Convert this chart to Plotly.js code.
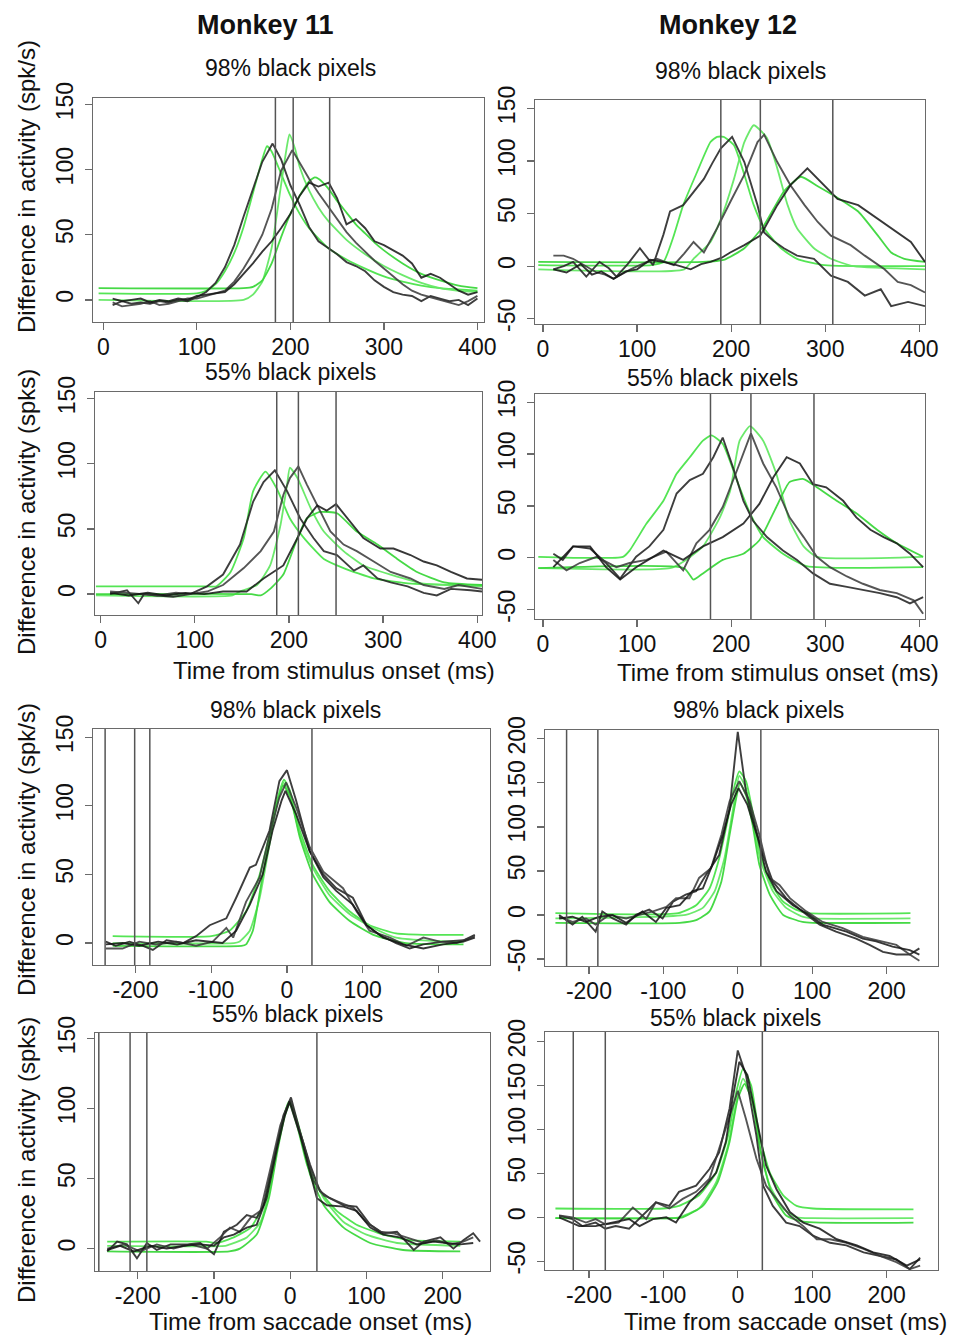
<!DOCTYPE html>
<html>
<head>
<meta charset="utf-8">
<script src="https://cdn.plot.ly/plotly-3.0.1.min.js"></script>
<style>
html,body{margin:0;padding:0;background:#fff;}
#chart{width:956px;height:1337px;}
</style>
</head>
<body>
<div id="chart"></div>
<script>
// ---------------- DATA ----------------
// tick values
const stimTicks = [0, 100, 200, 300, 400];
const saccTicks = [-200, -100, 0, 100, 200];
const yTicksA = [0, 50, 100, 150];
const yTicksB = [-50, 0, 50, 100, 150];
const yTicksC = [-50, 0, 50, 100, 150, 200];

// column / panel labels
const monkeyLabels = ["Monkey 11", "Monkey 12"];
const panelTitles = ["98% black pixels", "98% black pixels", "55% black pixels", "55% black pixels",
                     "98% black pixels", "98% black pixels", "55% black pixels", "55% black pixels"];
const yTitles = ["Difference in activity (spk/s)", "Difference in activity (spks)",
                 "Difference in activity (spk/s)", "Difference in activity (spks)"];
const xTitles = ["Time from stimulus onset (ms)", "Time from stimulus onset (ms)",
                 "Time from saccade onset (ms)", "Time from saccade onset (ms)"];

// vertical marker times (ms)
const p1VLines = [184, 203, 242];
const p2VLines = [189, 231, 308];
const p3VLines = [187, 210, 250];
const p4VLines = [178, 221, 288];
const p5VLines = [-240, -201, -181, 33];
const p6VLines = [-230, -188, 31];
const p7VLines = [-251, -210, -188, 35];
const p8VLines = [-221, -178, 33];

// ---- Panel 1: Monkey 11, stimulus onset, 98% ---- [time, activity]
const p1BlackA = [[10,-4],[20,-1],[30,-3],[40,-2],[50,-3],[60,-1],[70,-2],[80,0],[90,-1],[100,2],[110,6],[120,13],[130,25],[140,42],[150,64],[160,85],[170,106],[181,120],[190,108],[200,88],[210,73],[220,56],[230,45],[240,40],[250,35],[260,29],[270,26],[280,22],[290,15],[300,10],[310,6],[320,4],[330,3],[340,-1],[350,3],[360,1],[370,-1],[380,0],[390,-4],[400,1]];
const p1BlackB = [[10,-2],[20,-5],[30,-4],[40,-3],[50,-1],[60,-4],[70,-3],[80,-1],[90,1],[100,1],[110,3],[120,5],[130,7],[140,14],[150,24],[160,36],[170,50],[180,70],[190,99],[202,115],[210,105],[220,93],[230,82],[240,72],[250,62],[260,52],[270,44],[280,37],[290,30],[300,24],[310,18],[320,12],[330,7],[340,4],[350,2],[360,0],[370,-2],[380,-4],[390,-1],[400,3]];
const p1BlackC = [[10,1],[20,-1],[30,0],[40,1],[50,-2],[60,0],[70,-1],[80,1],[90,0],[100,3],[110,4],[120,5],[130,6],[140,12],[150,20],[160,28],[170,37],[180,45],[190,55],[200,66],[210,80],[220,90],[230,87],[241,90],[250,78],[260,58],[270,62],[280,55],[290,45],[300,42],[310,38],[320,34],[330,28],[340,17],[350,20],[360,17],[370,12],[380,7],[390,4],[400,6]];
const p1GreenA = [[-5,5],[100,5],[110,7],[120,12],[130,22],[140,36],[150,56],[160,82],[170,108],[175,118],[180,114],[190,97],[200,80],[210,66],[220,55],[240,40],[260,31],[280,24],[300,18],[320,14],[340,11],[360,9],[380,8],[400,7]];
const p1GreenB = [[-5,0],[150,0],[160,4],[170,14],[180,40],[190,88],[195,112],[199,127],[205,116],[210,102],[220,84],[230,71],[240,61],[260,46],[280,35],[300,26],[320,19],[340,13],[360,9],[380,7],[400,6]];
const p1GreenC = [[-5,9],[150,9],[160,10],[170,15],[180,28],[190,48],[200,66],[210,80],[220,91],[226,94],[230,93],[240,86],[250,76],[260,67],[270,58],[280,51],[290,44],[300,38],[320,28],[340,20],[360,15],[380,11],[400,9]];

// ---- Panel 2: Monkey 12, stimulus onset, 98% ----
const p2BlackA = [[11,-3],[22,0],[32,4],[46,-10],[60,4],[70,-2],[78,-10],[90,2],[103,17],[117,1],[128,30],[135,52],[149,58],[160,70],[171,83],[180,98],[189,112],[201,123],[214,99],[228,58],[235,32],[245,24],[256,17],[270,10],[288,7],[306,-9],[324,-15],[342,-28],[359,-22],[370,-38],[388,-34],[406,-38]];
const p2BlackB = [[11,10],[22,10],[32,7],[45,0],[57,-6],[66,-8],[75,-12],[93,-3],[108,3],[121,7],[139,1],[150,12],[160,23],[171,13],[185,36],[199,61],[214,87],[228,118],[235,125],[249,99],[263,77],[278,58],[292,42],[306,29],[327,20],[342,10],[363,-3],[377,-15],[391,-18],[406,-25]];
const p2BlackC = [[11,-3],[25,-6],[40,2],[52,-8],[62,-5],[75,-12],[88,-5],[100,-3],[114,6],[128,4],[142,1],[157,-3],[168,2],[178,4],[190,8],[199,13],[214,20],[231,29],[249,58],[263,77],[281,93],[299,77],[313,64],[335,58],[356,45],[377,32],[391,23],[406,4]];
const p2GreenA = [[-5,1],[115,1],[128,4],[139,29],[149,58],[164,90],[178,118],[185,123],[192,123],[203,115],[214,87],[224,58],[235,36],[253,17],[270,7],[299,1],[406,0]];
const p2GreenB = [[-5,-3],[150,-3],[160,7],[178,23],[192,52],[203,83],[214,118],[224,134],[238,122],[249,93],[260,58],[270,36],[288,17],[306,7],[330,0],[406,-3]];
const p2GreenC = [[-5,4],[170,4],[192,6],[214,17],[235,39],[256,71],[274,85],[292,76],[313,65],[335,52],[356,29],[370,13],[384,7],[406,4]];

// ---- Panel 3: Monkey 11, stimulus onset, 55% ----
const p3BlackA = [[10,0],[20,2],[28,3],[40,-7],[46,0],[60,-1],[77,-2],[95,0],[113,6],[130,15],[148,38],[162,71],[173,86],[185,95],[198,79],[212,58],[226,43],[237,33],[251,30],[269,18],[279,22],[294,12],[308,9],[326,6],[343,1],[357,-1],[372,4],[393,3],[405,2]];
const p3BlackB = [[10,2],[25,1],[40,0],[60,-1],[80,1],[95,0],[113,2],[130,7],[152,20],[170,33],[184,48],[194,76],[201,89],[210,98],[219,84],[230,68],[244,48],[258,38],[272,33],[290,25],[308,17],[329,12],[343,7],[365,4],[380,7],[405,4]];
const p3BlackC = [[10,1],[30,-1],[50,1],[70,-1],[90,1],[110,0],[130,2],[155,2],[173,12],[194,22],[209,43],[219,58],[230,68],[240,64],[250,69],[265,56],[279,43],[297,35],[311,35],[329,30],[343,25],[357,22],[372,17],[389,12],[405,11]];
const p3GreenA = [[-5,6],[110,6],[123,6],[138,17],[152,43],[162,79],[175,94],[187,81],[201,58],[216,43],[237,27],[258,20],[290,12],[330,8],[405,7]];
const p3GreenB = [[-5,-1],[140,-1],[148,2],[166,7],[180,22],[191,53],[198,84],[201,97],[209,89],[223,66],[237,48],[258,33],[279,22],[308,15],[343,8],[405,6]];
const p3GreenC = [[-5,0],[160,0],[170,-1],[180,4],[194,15],[209,43],[219,58],[233,63],[251,62],[272,48],[294,38],[315,27],[336,17],[365,9],[405,7]];

// ---- Panel 4: Monkey 12, stimulus onset, 55% ----
const p4BlackA = [[11,4],[21,-2],[32,11],[50,9],[67,-5],[82,-20],[99,1],[113,11],[128,27],[142,62],[156,75],[170,81],[181,97],[191,116],[202,87],[213,55],[223,36],[238,20],[255,7],[270,-2],[287,-15],[305,-25],[323,-28],[340,-31],[358,-34],[376,-38],[390,-44],[404,-38]];
const p4BlackB = [[11,-2],[25,-12],[39,-5],[57,1],[78,-9],[92,-5],[110,-2],[131,6],[149,-12],[163,14],[177,27],[191,49],[206,84],[221,120],[234,91],[248,68],[262,39],[277,20],[291,1],[305,-9],[323,-18],[340,-25],[358,-31],[376,-34],[394,-41],[404,-54]];
const p4BlackC = [[11,-9],[32,11],[50,11],[67,-9],[82,-21],[99,-9],[128,7],[149,-2],[170,11],[191,20],[213,33],[230,52],[245,78],[259,97],[273,91],[287,71],[301,68],[319,55],[333,39],[348,27],[362,20],[376,14],[390,4],[404,-9]];
const p4GreenA = [[-5,1],[85,1],[92,7],[110,33],[128,55],[142,81],[156,97],[170,113],[179,118],[191,110],[206,75],[220,43],[234,20],[255,4],[280,-8],[404,-9]];
const p4GreenB = [[-5,-10],[135,-10],[152,-2],[170,11],[188,39],[199,65],[209,113],[220,127],[234,113],[248,81],[262,36],[277,11],[291,1],[404,1]];
const p4GreenC = [[-5,-10],[150,-10],[160,-21],[170,-15],[191,-2],[213,4],[230,17],[248,49],[262,73],[277,76],[291,68],[312,55],[333,43],[355,27],[376,14],[404,1]];

// ---- Panel 5: Monkey 11, saccade onset, 98% ----
const p5BlackA = [[-239,1],[-226,-2],[-208,1],[-190,-2],[-177,-5],[-159,2],[-137,0],[-120,5],[-102,13],[-80,18],[-67,33],[-49,55],[-41,57],[-23,82],[-10,118],[0,126],[12,104],[30,67],[48,50],[65,40],[87,33],[105,13],[122,6],[144,0],[162,-4],[180,-1],[206,1],[233,2],[248,6]];
const p5BlackB = [[-239,-4],[-217,-4],[-195,1],[-173,-1],[-146,1],[-120,-2],[-98,1],[-80,11],[-71,4],[-54,30],[-36,48],[-23,79],[-10,106],[-1,117],[12,99],[30,70],[48,52],[74,40],[92,23],[109,9],[136,4],[158,-2],[180,4],[202,1],[224,0],[248,5]];
const p5BlackC = [[-239,-1],[-217,0],[-195,-2],[-170,1],[-145,-1],[-120,2],[-85,0],[-67,9],[-49,28],[-32,50],[-19,82],[-7,104],[-2,111],[12,94],[30,67],[48,48],[65,38],[87,28],[105,13],[127,4],[153,-1],[180,-4],[206,-1],[233,1],[248,4]];
const p5GreenA = [[-230,5],[-100,5],[-76,9],[-54,23],[-36,50],[-23,79],[-12,106],[-4,119],[4,111],[17,82],[34,57],[56,38],[83,23],[109,13],[144,7],[180,6],[233,6]];
const p5GreenB = [[-230,0],[-70,0],[-63,1],[-49,9],[-36,33],[-23,72],[-14,99],[-5,117],[4,108],[17,79],[34,55],[56,35],[83,21],[114,11],[144,4],[180,2],[233,1]];
const p5GreenC = [[-230,-2],[-60,-2],[-54,-1],[-45,9],[-34,43],[-23,77],[-12,104],[-5,115],[4,107],[17,77],[34,50],[56,30],[83,16],[114,6],[157,0],[233,-1]];

// ---- Panel 6: Monkey 12, saccade onset, 98% ----
const p6BlackA = [[-240,0],[-222,-11],[-209,-2],[-191,-19],[-182,4],[-168,-4],[-150,-11],[-137,0],[-119,6],[-101,-4],[-87,15],[-70,23],[-56,27],[-43,45],[-25,68],[-11,121],[0,208],[11,140],[25,95],[34,68],[47,38],[65,19],[87,4],[110,-11],[132,-19],[159,-27],[177,-34],[195,-42],[213,-45],[231,-45],[244,-38]];
const p6BlackB = [[-240,-2],[-222,-8],[-204,-4],[-191,-11],[-173,0],[-150,-4],[-132,0],[-114,4],[-96,9],[-83,19],[-65,19],[-52,42],[-36,53],[-22,91],[-11,129],[2,152],[16,129],[29,91],[43,42],[56,34],[70,19],[92,4],[114,-8],[141,-15],[168,-25],[191,-30],[213,-34],[231,-45],[244,-52]];
const p6BlackC = [[-240,-4],[-222,-2],[-204,-8],[-186,-2],[-168,0],[-150,-9],[-128,4],[-110,-8],[-96,8],[-78,11],[-61,27],[-47,30],[-34,57],[-20,91],[-9,125],[1,144],[13,125],[27,87],[38,49],[52,27],[74,11],[96,0],[114,-11],[146,-19],[168,-27],[186,-30],[208,-36],[231,-40],[244,-45]];
const p6GreenA = [[-245,2],[-80,2],[-56,11],[-38,30],[-25,64],[-13,110],[-4,148],[2,163],[11,152],[20,117],[29,72],[43,38],[61,15],[78,6],[96,2],[232,2]];
const p6GreenB = [[-245,-4],[-70,0],[-47,8],[-31,27],[-18,64],[-7,117],[2,158],[11,144],[20,106],[31,61],[47,27],[65,8],[87,-2],[101,-4],[232,-4]];
const p6GreenC = [[-245,-9],[-78,-9],[-56,-6],[-38,4],[-22,38],[-11,91],[-2,133],[3,150],[11,136],[20,102],[29,57],[43,23],[61,0],[87,-8],[101,-9],[232,-9]];

// ---- Panel 7: Monkey 11, saccade onset, 55% ----
const p7BlackA = [[-240,-2],[-227,5],[-214,3],[-201,-7],[-188,4],[-175,-1],[-157,3],[-135,3],[-118,4],[-100,-4],[-87,12],[-70,17],[-57,24],[-44,22],[-35,31],[-22,64],[-9,95],[1,108],[13,83],[26,60],[39,41],[52,36],[70,31],[87,30],[105,17],[122,11],[140,12],[162,-1],[175,5],[197,8],[214,0],[227,6],[240,11],[249,5]];
const p7BlackB = [[-240,0],[-218,3],[-197,-2],[-175,3],[-153,0],[-131,3],[-109,0],[-92,8],[-79,15],[-66,12],[-52,22],[-39,27],[-26,57],[-13,88],[0,106],[17,76],[31,48],[44,38],[61,34],[83,29],[100,19],[118,12],[135,11],[153,8],[175,4],[192,6],[210,3],[227,5],[240,8]];
const p7BlackC = [[-240,-1],[-223,2],[-205,-2],[-183,2],[-162,0],[-140,2],[-118,3],[-100,2],[-87,8],[-74,10],[-57,15],[-44,17],[-31,36],[-17,72],[-7,95],[-1,105],[13,81],[26,55],[35,36],[48,31],[70,30],[87,27],[105,15],[122,10],[144,8],[166,3],[188,5],[205,4],[223,3],[240,4]];
const p7GreenA = [[-240,5],[-110,5],[-96,4],[-74,8],[-52,15],[-35,31],[-22,60],[-11,88],[-2,105],[9,88],[22,60],[39,41],[61,27],[87,17],[122,10],[157,6],[223,5]];
const p7GreenB = [[-240,2],[-85,2],[-79,3],[-57,8],[-39,19],[-26,45],[-15,79],[-4,102],[0,105],[11,88],[26,57],[44,36],[70,19],[100,10],[140,4],[223,2]];
const p7GreenC = [[-240,-2],[-80,-2],[-66,0],[-44,10],[-28,36],[-17,69],[-7,95],[0,104],[11,86],[26,53],[44,31],[70,15],[105,4],[148,-1],[223,-2]];

// ---- Panel 8: Monkey 12, saccade onset, 55% ----
const p8BlackA = [[-240,2],[-222,-2],[-209,-10],[-191,-6],[-178,-13],[-164,-10],[-146,-13],[-128,2],[-110,17],[-92,13],[-79,29],[-56,36],[-38,55],[-25,74],[-11,124],[0,190],[11,162],[25,93],[34,36],[47,13],[65,-6],[83,-10],[101,-21],[124,-29],[146,-32],[169,-40],[191,-44],[213,-48],[231,-59],[245,-46]];
const p8BlackB = [[-240,2],[-222,0],[-204,-6],[-191,-2],[-178,-8],[-160,-6],[-141,11],[-123,-2],[-110,17],[-92,10],[-74,21],[-56,29],[-38,44],[-25,78],[-11,116],[0,144],[11,112],[25,67],[38,36],[52,21],[70,2],[88,-10],[106,-25],[124,-25],[146,-29],[169,-36],[191,-44],[213,-51],[231,-59],[245,-55]];
const p8BlackC = [[-240,0],[-213,-10],[-191,-10],[-168,-6],[-146,-2],[-132,-10],[-114,-2],[-96,0],[-83,-6],[-65,17],[-47,32],[-29,51],[-16,86],[-7,135],[2,177],[13,162],[25,112],[38,59],[52,32],[70,6],[88,-6],[110,-13],[133,-25],[160,-32],[182,-40],[204,-44],[227,-55],[245,-48]];
const p8GreenA = [[-245,10],[-100,10],[-79,13],[-52,25],[-29,51],[-13,93],[-2,143],[7,169],[18,150],[29,93],[43,51],[61,25],[79,13],[101,10],[236,9]];
const p8GreenB = [[-245,-1],[-90,-1],[-79,0],[-52,10],[-29,40],[-13,82],[-2,131],[7,158],[18,139],[29,82],[43,36],[61,10],[79,0],[101,-1],[236,-1]];
const p8GreenC = [[-245,-1],[-85,-1],[-74,0],[-47,13],[-27,40],[-11,86],[0,135],[9,152],[20,131],[31,74],[45,29],[65,2],[88,-5],[236,-6]];

// ---------------- LAYOUT / DRAWING ----------------
const W = 956, H = 1337;
const FONT = '"Liberation Sans", Arial, Helvetica, sans-serif';
const px = v => v / W;
const py = v => 1 - v / H;

const panels = [
  {black:[p1BlackA,p1BlackB,p1BlackC], green:[p1GreenA,p1GreenB,p1GreenC], v:p1VLines, xt:stimTicks, yt:yTicksA, fr:[93,484,98,322], xr:[-11,407], yr:[-17,155]},
  {black:[p2BlackA,p2BlackB,p2BlackC], green:[p2GreenA,p2GreenB,p2GreenC], v:p2VLines, xt:stimTicks, yt:yTicksB, fr:[535,925,100,324], xr:[-8.5,406], yr:[-55,158]},
  {black:[p3BlackA,p3BlackB,p3BlackC], green:[p3GreenA,p3GreenB,p3GreenC], v:p3VLines, xt:stimTicks, yt:yTicksA, fr:[95,482,392,615], xr:[-6,405], yr:[-16,155]},
  {black:[p4BlackA,p4BlackB,p4BlackC], green:[p4GreenA,p4GreenB,p4GreenC], v:p4VLines, xt:stimTicks, yt:yTicksB, fr:[535,925,394,619], xr:[-8.5,406], yr:[-59,158]},
  {black:[p5BlackA,p5BlackB,p5BlackC], green:[p5GreenA,p5GreenB,p5GreenC], v:p5VLines, xt:saccTicks, yt:yTicksA, fr:[93,490,729,965], xr:[-256,268], yr:[-16,156]},
  {black:[p6BlackA,p6BlackB,p6BlackC], green:[p6GreenA,p6GreenB,p6GreenC], v:p6VLines, xt:saccTicks, yt:yTicksC, fr:[545,938,730,966], xr:[-259,269], yr:[-58,210]},
  {black:[p7BlackA,p7BlackB,p7BlackC], green:[p7GreenA,p7GreenB,p7GreenC], v:p7VLines, xt:saccTicks, yt:yTicksA, fr:[95,490,1033,1271], xr:[-256,262], yr:[-16,154]},
  {black:[p8BlackA,p8BlackB,p8BlackC], green:[p8GreenA,p8GreenB,p8GreenC], v:p8VLines, xt:saccTicks, yt:yTicksC, fr:[545,938,1032,1270], xr:[-259,269], yr:[-60,211]}
];

const traces = [];
const shapes = [];
const layout = {
  width: W, height: H,
  margin: {l:0, r:0, t:0, b:0},
  paper_bgcolor: '#fff', plot_bgcolor: '#fff',
  showlegend: false,
  font: {family: FONT, color: '#111', size: 23},
  annotations: []
};

const blackColors = ['rgba(35,35,35,0.88)','rgba(55,55,55,0.85)','rgba(20,20,20,0.85)'];
const greenColors = ['rgba(75,228,75,0.95)','rgba(100,232,100,0.95)','rgba(60,215,60,0.95)'];

panels.forEach((p, i) => {
  const n = i + 1;
  const xa = n === 1 ? 'x' : 'x' + n;
  const ya = n === 1 ? 'y' : 'y' + n;
  const xk = n === 1 ? 'xaxis' : 'xaxis' + n;
  const yk = n === 1 ? 'yaxis' : 'yaxis' + n;
  const [l, r, t, b] = p.fr;
  const common = {
    showline: true, mirror: true, linecolor: '#6a6a6a', linewidth: 1.4,
    ticks: 'outside', ticklen: 7, tickwidth: 1.3, tickcolor: '#6a6a6a',
    showgrid: false, zeroline: false, fixedrange: true,
    tickfont: {family: FONT, size: 23, color: '#111'}
  };
  layout[xk] = Object.assign({}, common, {
    domain: [px(l), px(r)], range: p.xr, anchor: ya,
    tickmode: 'array', tickvals: p.xt, ticktext: p.xt.map(String),
    ticklabelstandoff: -3
  });
  layout[yk] = Object.assign({}, common, {
    domain: [py(b), py(t)], range: p.yr, anchor: xa,
    tickmode: 'array', tickvals: p.yt, ticktext: p.yt.map(String),
    tickangle: -90, ticklabelstandoff: 2
  });
  p.green.forEach((s, k) => {
    traces.push({
      type: 'scatter', mode: 'lines', xaxis: xa, yaxis: ya,
      x: s.map(d => d[0]), y: s.map(d => d[1]),
      line: {color: greenColors[k], width: 1.8, shape: 'spline', smoothing: 0.5},
      hoverinfo: 'skip'
    });
  });
  p.black.forEach((s, k) => {
    traces.push({
      type: 'scatter', mode: 'lines', xaxis: xa, yaxis: ya,
      x: s.map(d => d[0]), y: s.map(d => d[1]),
      line: {color: blackColors[k], width: 1.9},
      hoverinfo: 'skip'
    });
  });
  p.v.forEach(tv => {
    shapes.push({
      type: 'line', xref: xa, yref: ya + ' domain',
      x0: tv, x1: tv, y0: 0, y1: 1,
      line: {color: '#555', width: 1.5}, layer: 'above'
    });
  });
});
layout.shapes = shapes;

function ann(text, x, y, opts) {
  layout.annotations.push(Object.assign({
    text: text, xref: 'paper', yref: 'paper', x: px(x), y: py(y),
    xanchor: 'center', yanchor: 'middle', showarrow: false,
    font: {family: FONT, size: 23, color: '#111'}
  }, opts || {}));
}

// column headers
ann('<b>' + monkeyLabels[0] + '</b>', 265, 25, {font: {family: FONT, size: 27, color: '#111'}});
ann('<b>' + monkeyLabels[1] + '</b>', 728, 25, {font: {family: FONT, size: 27, color: '#111'}});
// panel titles
const titlePos = [[290,68],[740,71],[290,372],[712,378],[295,710],[758,710],[297,1014],[735,1018]];
panelTitles.forEach((tx, i) => ann(tx, titlePos[i][0], titlePos[i][1]));
// y titles
const yTitlePos = [[26,187],[26,512],[26,850],[26,1160]];
yTitles.forEach((tx, i) => ann(tx, yTitlePos[i][0], yTitlePos[i][1], {textangle: -90, font: {family: FONT, size: 24, color: '#111'}}));
// x titles
const xTitlePos = [[334,670],[778,673],[310,1321],[785,1321]];
xTitles.forEach((tx, i) => ann(tx, xTitlePos[i][0], xTitlePos[i][1], {font: {family: FONT, size: 24, color: '#111'}}));

Plotly.newPlot('chart', traces, layout, {staticPlot: true, displayModeBar: false});
</script>
</body>
</html>
